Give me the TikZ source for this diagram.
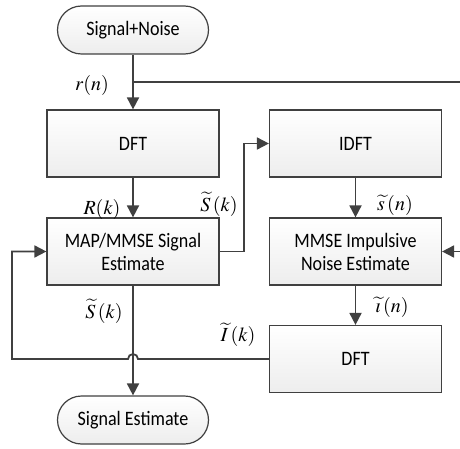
\documentclass[tikz,border=0pt]{standalone}
\usepackage{mathptmx}
\usepackage{fontspec}
\setmainfont{Carlito}[FakeStretch=0.88]
\usetikzlibrary{arrows.meta,shapes.misc}
\definecolor{linec}{HTML}{404040}
\begin{document}
\begin{tikzpicture}[x=1pt,y=-1pt,
 txt/.style={font=\fontsize{20.5}{23}\selectfont, align=center, text=black},
 box/.style={txt, draw=linec, line width=1.2pt, top color=white, bottom color=gray!14, minimum width=172pt, minimum height=67pt, inner sep=0pt},
 term/.style={txt, rounded rectangle, draw=linec, line width=1.2pt, top color=white, bottom color=gray!14, minimum width=151pt, minimum height=48pt, inner sep=0pt},
 conn/.style={line width=1.8pt, draw=linec},
 arr/.style={conn, -{Triangle[length=12pt,width=12pt]}},
 lab/.style={font=\fontsize{20}{22}\selectfont, inner sep=0pt}
]
\useasboundingbox (0,0) rectangle (460,449);
\node[term] (src) at (133,30) {Signal+Noise};
\node[box] (dft1) at (133,143.5) {DFT};
\node[box] (idft) at (355.5,143.5) {IDFT};
\node[box] (map) at (133,251.5) {MAP/MMSE Signal\\Estimate};
\node[box] (mmse) at (355.5,251.5) {MMSE Impulsive\\Noise Estimate};
\node[box] (dft2) at (355.5,359) {DFT};
\node[term] (est) at (133,420) {Signal Estimate};
\coordinate (br) at (133,82);
\coordinate (re) at (460,82);
\coordinate (rin) at (460,251.5);
\coordinate (jr) at (138,359);
\draw[conn] (src.south) -- (br);
\draw[arr] (br) -- (dft1.north);
\draw[conn] (br) -- (re);
\draw[arr] (rin) -- (mmse.east);
\draw[arr] (dft1.south) -- (map.north);
\draw[arr] (map.east) -- ++(24,0) |- (idft.west);
\draw[arr] (idft.south) -- (mmse.north);
\draw[arr] (mmse.south) -- (dft2.north);
\draw[arr] (dft2.west) -- (jr) arc[start angle=0,end angle=180,radius=5pt] -- (12,359) |- (map.west);
\draw[arr] (map.south) -- (est.north);
\node[lab] (lr) at (92,86) {$r(n)$};
\node[lab] (lR) at (102,209) {$R(k)$};
\node[lab] (lS1) at (219,204) {$\widetilde{S}\,(k)$};
\node[lab] (ls) at (395,205) {$\widetilde{s}\,(n)$};
\node[lab] (lS2) at (104,311) {$\widetilde{S}\,(k)$};
\node[lab] (li) at (392,307) {$\widetilde{\imath}\,(n)$};
\node[lab] (lI) at (238,335) {$\widetilde{I}\,(k)$};
\end{tikzpicture}
\end{document}
